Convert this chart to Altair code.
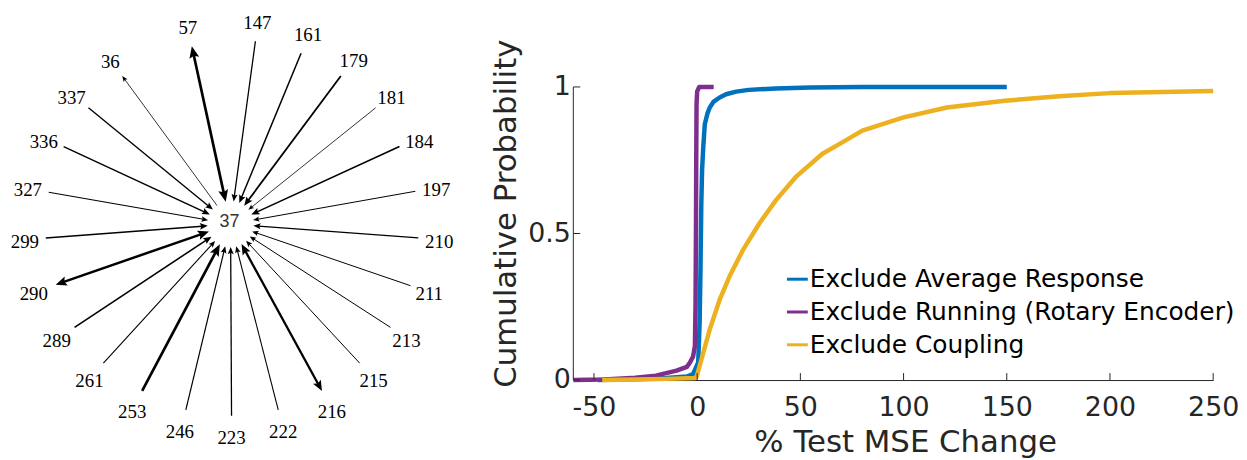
import math
import altair as alt
import pandas as pd

# ---------------- left panel: star network around unit 37 ----------------
hub_name = "37"
hub_x, hub_y = 232, 224          # layout position of the hub (x right, y down)
node_names = ["57", "147", "161", "179", "181", "184", "197", "210", "211", "213", "215", "216",
              "222", "223", "246", "253", "261", "289", "290", "299", "327", "336", "337", "36"]
# outer end of each edge (layout coordinates, x right, y down)
node_x = [193, 257, 303, 343, 378, 402, 418, 421, 413, 393, 362, 324,
          280, 233, 187, 143, 104, 75, 56, 46, 49, 64, 89, 123]
node_y = [45, 40, 52, 75, 107, 146, 191, 238, 286, 328, 364, 392,
          411, 417, 411, 392, 364, 328, 285, 238, 192, 146, 107, 75]
# label anchor of each node
label_x = [189, 259, 310, 356, 394, 422, 439, 442, 432, 409, 376, 334,
           285, 233, 181, 133, 90, 57, 34, 25, 28, 44, 72, 111]
label_y = [27, 22, 34, 60, 97, 141, 190, 242, 294, 342, 382, 413,
           433, 439, 433, 413, 382, 342, 294, 242, 190, 141, 97, 61]
# edge weight (drawn as line width)
edge_weight = [2.7, 1.3, 1.5, 1.8, 0.8, 1.6, 1.0, 1.3, 1.0, 1.0, 1.0, 2.3,
               1.1, 1.3, 1.2, 2.7, 1.1, 1.6, 2.5, 1.5, 1.1, 1.5, 1.4, 0.8]
# direction: node -> hub, hub -> node
to_hub = [1, 1, 1, 1, 1, 1, 1, 1, 1, 1, 1, 1, 1, 1, 1, 1, 1, 1, 1, 1, 1, 1, 1, 0]
from_hub = [1, 0, 0, 0, 0, 0, 0, 0, 0, 0, 0, 1, 0, 0, 0, 0, 0, 0, 1, 0, 0, 0, 0, 1]

# ---------------- right panel: cumulative distributions ----------------
series_names = ["Exclude Average Response", "Exclude Running (Rotary Encoder)", "Exclude Coupling"]
series_colors = ["#0072BD", "#7E2F8E", "#EDB120"]

avg_x = [-48, -30, -15, -5, -2, 0.5, 1.2, 1.6, 2.0, 2.4, 3.0, 3.7, 5.0, 6.1, 8, 10.9, 14, 18.9, 25, 38, 55, 80, 110, 150]
avg_p = [0.0, 0.003, 0.007, 0.012, 0.02, 0.06, 0.2, 0.376, 0.6, 0.72, 0.8, 0.873, 0.91, 0.93, 0.95, 0.964,
         0.975, 0.984, 0.99, 0.995, 0.998, 1.0, 1.0, 1.0]
run_x = [-60, -45, -30, -20, -10, -5, -3.5, -2, -1.1, -0.8, -0.6, -0.45, -0.3, 0, 1, 3, 5, 8]
run_p = [0.0, 0.002, 0.008, 0.015, 0.032, 0.045, 0.06, 0.08, 0.116, 0.25, 0.49, 0.75, 0.94, 0.985, 1.0, 1.0, 1.0, 1.0]
cpl_x = [-46, -30, -15, -5, -1.1, -0.3, 2.1, 6.1, 10.9, 15.7, 22.2, 30.2, 38.2, 47.8, 60.7, 70.3, 80, 100,
         121, 149, 177, 200, 225, 250]
cpl_p = [0.0, 0.002, 0.004, 0.006, 0.007, 0.01, 0.071, 0.173, 0.274, 0.354, 0.444, 0.535, 0.614, 0.693,
         0.772, 0.811, 0.851, 0.896, 0.93, 0.953, 0.969, 0.979, 0.983, 0.986]

x_ticks = [-50, 0, 50, 100, 150, 200, 250]
y_ticks = [0, 0.5, 1]

# ---------------- sizes ----------------
LEFT_W, LEFT_H = 440, 444
RIGHT_W, RIGHT_H = 644, 373
GAP = 36
Y_TOP = 1 + 78 / 295.0
AXIS_COLOR = "#262626"
HEAD_PATH = "M0,0L0.42,1L0,0.82L-0.42,1Z"
R_IN = 23

# ---------------- build network tables ----------------
edge_rows, head_rows = [], []
for i, name in enumerate(node_names):
    ox, oy = node_x[i], node_y[i]
    dx, dy = ox - hub_x, oy - hub_y
    d = math.hypot(dx, dy)
    ux, uy = dx / d, dy / d
    ix, iy = hub_x + ux * R_IN, hub_y + uy * R_IN
    lw = edge_weight[i]
    L = 3 + 3.3 * lw
    sx, sy, ex, ey = ox, oy, ix, iy
    if to_hub[i]:
        ex, ey = ix + ux * 0.7 * L, iy + uy * 0.7 * L
        ang = (math.degrees(math.atan2(-uy, -ux)) + 90) % 360
        head_rows.append(dict(x=ix, y=iy, angle=ang, size=4 * L * L))
    if from_hub[i]:
        sx, sy = ox - ux * 0.7 * L, oy - uy * 0.7 * L
        ang = (math.degrees(math.atan2(uy, ux)) + 90) % 360
        head_rows.append(dict(x=ox, y=oy, angle=ang, size=4 * L * L))
    edge_rows.append(dict(x=sx, y=sy, x2=ex, y2=ey, w=lw))

edges_df = pd.DataFrame(edge_rows)
heads_df = pd.DataFrame(head_rows)
labels_df = pd.DataFrame({"x": label_x, "y": label_y, "name": node_names})
hub_df = pd.DataFrame({"x": [hub_x - 1], "y": [hub_y - 2], "name": [hub_name]})

lxs = alt.Scale(domain=[8, 8 + LEFT_W], nice=False, zero=False)
lys = alt.Scale(domain=[8, 8 + LEFT_H], nice=False, zero=False, reverse=True)

edges = alt.Chart(edges_df).mark_rule(color="black", strokeCap="butt").encode(
    x=alt.X("x:Q", scale=lxs, axis=None),
    y=alt.Y("y:Q", scale=lys, axis=None),
    x2="x2:Q", y2="y2:Q",
    strokeWidth=alt.StrokeWidth("w:Q", scale=None),
)
heads = alt.Chart(heads_df).mark_point(shape=HEAD_PATH, filled=True, opacity=1, color="black",
                                       strokeWidth=0).encode(
    x=alt.X("x:Q", scale=lxs, axis=None),
    y=alt.Y("y:Q", scale=lys, axis=None),
    angle=alt.Angle("angle:Q", scale=None),
    size=alt.Size("size:Q", scale=None),
)
labels = alt.Chart(labels_df).mark_text(font="Liberation Serif", fontSize=19, color="black",
                                        baseline="middle", align="center").encode(
    x=alt.X("x:Q", scale=lxs, axis=None),
    y=alt.Y("y:Q", scale=lys, axis=None),
    text="name:N",
)
hub = alt.Chart(hub_df).mark_text(font="Liberation Sans", fontSize=18, color="#333333",
                                  baseline="middle", align="center").encode(
    x=alt.X("x:Q", scale=lxs, axis=None),
    y=alt.Y("y:Q", scale=lys, axis=None),
    text="name:N",
)
left = alt.layer(edges, heads, labels, hub).properties(width=LEFT_W, height=LEFT_H)

# ---------------- build CDF table ----------------
rows = []
for name, xs, ps in [(series_names[0], avg_x, avg_p), (series_names[1], run_x, run_p),
                     (series_names[2], cpl_x, cpl_p)]:
    for k, (xv, pv) in enumerate(zip(xs, ps)):
        rows.append(dict(series=name, x=xv, p=pv, k=k))
cdf_df = pd.DataFrame(rows)

rxs = alt.Scale(domain=[-60, 250], nice=False, zero=False)
rys = alt.Scale(domain=[0, Y_TOP], nice=False, zero=False)
colsc = alt.Scale(domain=series_names, range=series_colors)

x_axis = alt.Axis(values=x_ticks, format="d", labelExpr="replace(datum.label, '\u2212', '-')",
                  title="% Test MSE Change",
                  titleX=334, titleY=72, titleBaseline="alphabetic", titleAlign="center",
                  domain=True, domainColor=AXIS_COLOR, domainWidth=1, ticks=False, tickSize=0,
                  labelPadding=15, grid=False, labelFlush=False, labelOverlap=False)
y_axis = alt.Axis(values=y_ticks, format=".1~f", title="Cumulative Probability",
                  titleX=-58, titleY=205, titleAngle=270, titleBaseline="alphabetic", titleAlign="center",
                  domain=False, ticks=False, tickSize=0, labelPadding=3, grid=False,
                  labelFlush=False, labelOverlap=False)
legend = alt.Legend(orient="none", legendX=782, legendY=259, title=None, symbolType="stroke",
                    symbolSize=441, symbolStrokeWidth=3, labelFont="DejaVu Sans", labelFontSize=25,
                    labelColor="black", labelOffset=0, rowPadding=7, padding=0, labelLimit=700)

line_layers = []
for s in series_names:
    line_layers.append(
        alt.Chart(cdf_df).transform_filter(alt.datum.series == s).mark_line(
            strokeWidth=4.5, strokeJoin="round", strokeCap="butt").encode(
            x=alt.X("x:Q", scale=rxs, axis=x_axis),
            y=alt.Y("p:Q", scale=rys, axis=y_axis),
            color=alt.Color("series:N", scale=colsc, legend=legend),
            order="k:Q",
        )
    )

y_line = alt.Chart(pd.DataFrame({"p": [y_ticks[0]], "p2": [y_ticks[-1]]})).mark_rule(
    color=AXIS_COLOR, strokeWidth=1).encode(
    x=alt.value(0), y=alt.Y("p:Q", scale=rys, axis=y_axis), y2="p2:Q")
x_tick_marks = alt.Chart(pd.DataFrame({"x": x_ticks})).mark_rule(color=AXIS_COLOR, strokeWidth=1).encode(
    x=alt.X("x:Q", scale=rxs, axis=x_axis), y=alt.value(RIGHT_H), y2=alt.value(RIGHT_H - 7))
y_tick_marks = alt.Chart(pd.DataFrame({"p": y_ticks})).mark_rule(color=AXIS_COLOR, strokeWidth=1).encode(
    y=alt.Y("p:Q", scale=rys, axis=y_axis), x=alt.value(0), x2=alt.value(7))

right = alt.layer(*line_layers, y_line, x_tick_marks, y_tick_marks).properties(
    width=RIGHT_W, height=RIGHT_H)

chart = alt.hconcat(left, right, spacing=GAP).properties(
    padding=0, background="white"
).configure_view(stroke=None).configure_axis(
    labelFont="DejaVu Sans", labelFontSize=27, labelColor=AXIS_COLOR,
    titleFont="DejaVu Sans", titleFontSize=31, titleFontWeight="normal", titleColor=AXIS_COLOR,
)

chart.save("out.html", embed_options={"renderer": "svg", "actions": False})
